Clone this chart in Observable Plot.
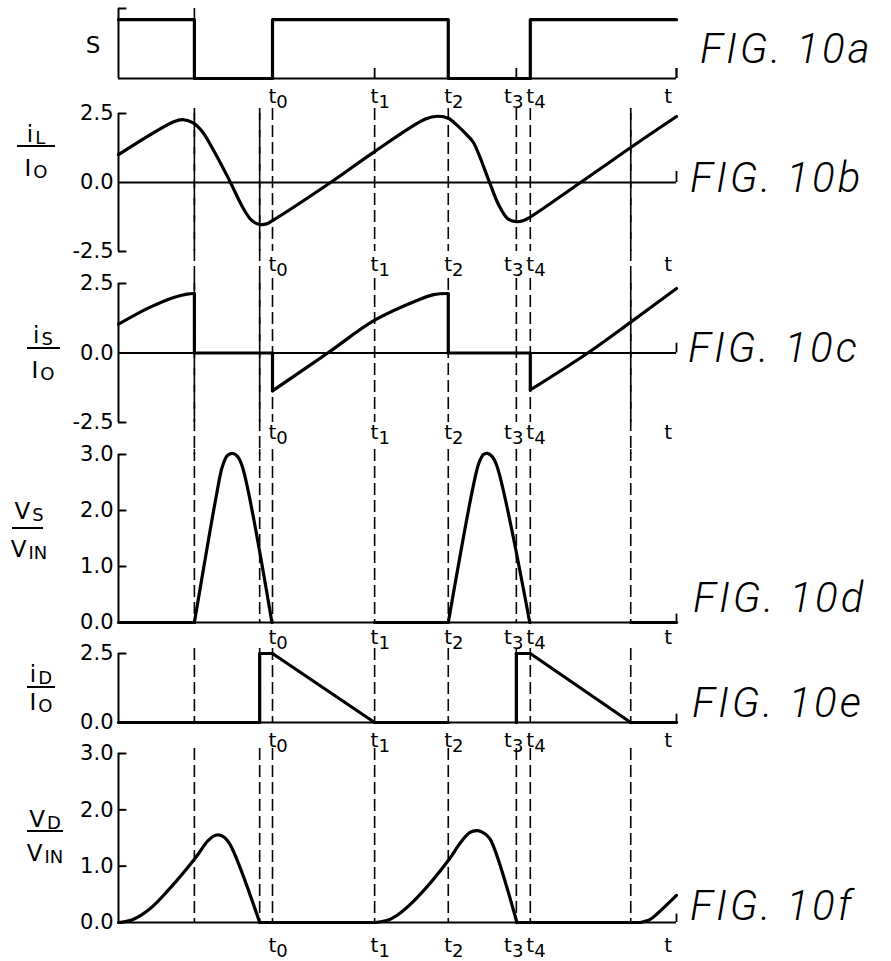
<!DOCTYPE html>
<html><head><meta charset="utf-8">
<script src="https://cdn.jsdelivr.net/npm/d3@7"></script>
<script src="https://cdn.jsdelivr.net/npm/@observablehq/plot@0.6"></script>
<style>
html,body{margin:0;padding:0;background:#fff;overflow:hidden;}
#chart{position:relative;width:891px;height:961px;}
</style></head><body><div id="chart"></div>
<script>
// ---- data (time in arbitrary units, 0..100 across the plot) ----
const dashTimes = [13.6, 25.3, 27.6, 45.9, 59.1, 71.3, 73.8, 91.8];
const tickLabels = ["t0", "t1", "t2", "t3", "t4", "t"];
const tickLabelTimes = [27.6, 45.9, 59.1, 71.3, 73.8, 98.5];
const switchTickTimes = [45.9, 71.3, 100];

const switchS = [[[0,1],[13.6,1],[13.6,0],[27.6,0],[27.6,1],[59.1,1],[59.1,0],[73.8,0],[73.8,1],[100,1]]];

const iL = [[[0,1.01],[9.9,2.2],[11.5,2.28],[13.3,2.17],[15.0,1.85],[16.8,1.25],[19.7,0.15],[22.4,-0.95],[23.9,-1.38],[25.3,-1.52],[26.5,-1.5],[27.6,-1.38],[38.0,0],[45.9,1.12],[55.0,2.3],[57.2,2.4],[59.1,2.33],[60.8,2.05],[62.3,1.75],[63.6,1.45],[66.5,0],[68.1,-0.8],[69.7,-1.3],[71.3,-1.42],[72.6,-1.38],[73.8,-1.25],[82.8,0],[91.8,1.27],[100,2.39]]];

const iS = [
  [[0,1.04],[5.7,1.65],[9.9,2.0],[12.3,2.12],[13.6,2.14]],
  [[13.6,2.14],[13.6,0]],
  [[13.6,0],[27.6,0]],
  [[27.6,0],[27.6,-1.36]],
  [[27.6,-1.36],[37.5,0],[45.9,1.18],[53.6,1.9],[56.5,2.1],[59.1,2.14]],
  [[59.1,2.14],[59.1,0]],
  [[59.1,0],[73.8,0]],
  [[73.8,0],[73.8,-1.33]],
  [[73.8,-1.33],[84.1,0],[91.8,1.11],[100,2.32]]
];

const vS = [
  [[0,0],[13.6,0]],
  [[13.6,0],[17.6,2.3],[18.6,2.78],[19.5,2.98],[20.4,3.02],[21.3,2.97],[22.2,2.78],[27.5,0]],
  [[45.9,0],[59.1,0]],
  [[59.1,0],[63.5,2.4],[64.6,2.85],[65.4,3.0],[66.1,3.02],[66.9,2.97],[67.8,2.8],[73.7,0]],
  [[91.8,0],[100,0]]
];

const iD = [
  [[0,0],[25.3,0]],
  [[25.3,0],[25.3,2.5]],
  [[25.3,2.5],[27.6,2.5]],
  [[27.6,2.5],[45.9,0]],
  [[45.9,0],[59.1,0]],
  [[71.3,0],[71.3,2.5]],
  [[71.3,2.5],[73.8,2.5]],
  [[73.8,2.5],[91.8,0]],
  [[91.8,0],[100,0]]
];

const vD = [
  [[0,0],[2.5,0.05],[5.7,0.25],[8.8,0.56],[13.8,1.15],[16.0,1.45],[17.4,1.55],[18.7,1.53],[19.9,1.4],[25.3,0]],
  [[25.3,0],[45.9,0]],
  [[45.9,0],[48.5,0.05],[50.5,0.17],[53.6,0.45],[59.1,1.1],[61.3,1.42],[63.0,1.6],[64.4,1.63],[65.6,1.58],[66.6,1.48],[71.4,0]],
  [[71.4,0],[93.5,0]],
  [[93.5,0],[95.2,0.05],[96.6,0.16],[100,0.48]]
];

const ticksB = [-2.5, 0, 2.5];
const ticksD = [0, 1, 2, 3];
const ticksE = [0, 2.5];
const figLabels = ["FIG. 10a", "FIG. 10b", "FIG. 10c", "FIG. 10d", "FIG. 10e", "FIG. 10f"];

// ---- helpers ----
const toRows = segs => segs.flatMap((seg, s) => seg.map(([t, v]) => ({t, v, s})));
const unlabeledDash = dashTimes.filter(t => !tickLabelTimes.includes(t));
const FONT = "DejaVu Sans";
const dashStyle = {stroke: "black", strokeWidth: 1.6, strokeDasharray: "12,5"};

const panels = [
  {data: switchS, top: 0, height: 115, mt: 8, mb: 37, domain: [0, 1.19], ticks: null, inner: [1.19], endTick: 0.17, labelDy: 18, extend: 0, a: true},
  {data: iL, top: 100, height: 185, mt: 13, mb: 34, domain: [-2.5, 2.5], ticks: ticksB, inner: [2.5, -2.5], endTick: 0.4, labelDy: 13, extend: -32},
  {data: iS, top: 270, height: 180, mt: 13, mb: 28, domain: [-2.5, 2.5], ticks: ticksB, inner: [2.5, -2.5], endTick: 0.35, labelDy: 10, extend: -32},
  {data: vS, top: 440, height: 210, mt: 14, mb: 28, domain: [0, 3], ticks: ticksD, inner: [1, 2, 3], endTick: 0.15, labelDy: 15, extend: 0},
  {data: iD, top: 640, height: 115, mt: 13, mb: 33, domain: [0, 2.5], ticks: ticksE, inner: [2.5], endTick: 0.3, labelDy: 18, extend: 0},
  {data: vD, top: 740, height: 221, mt: 13, mb: 39, domain: [0, 3], ticks: ticksD, inner: [1, 2, 3], endTick: 0.15, labelDy: 23, extend: 0}
];

const chart = document.getElementById("chart");
const labelRows = tickLabels.map((label, i) => ({label, t: tickLabelTimes[i]}));
const startLabels = labelRows.filter(d => d.label !== "t3" && d.label !== "t");
const endLabels = labelRows.filter(d => d.label === "t3");
const midLabels = labelRows.filter(d => d.label === "t");

panels.forEach(p => {
  const base = p.domain[0] < 0 ? 0 : p.domain[0];
  const marks = [];
  // axes
  marks.push(Plot.ruleX([0], {stroke: "black", strokeWidth: 2}));
  marks.push(Plot.ruleY([base], {stroke: "black", strokeWidth: 1.8}));
  marks.push(Plot.ruleY(p.inner, {x1: 0, x2: 1.5, stroke: "black", strokeWidth: 2}));
  marks.push(Plot.ruleX([100], {y1: base, y2: base + p.endTick, stroke: "black", strokeWidth: 1.8}));
  if (p.ticks) {
    marks.push(Plot.axisY({ticks: p.ticks, tickSize: 0, tickPadding: 5, tickFormat: d => d.toFixed(1), fontSize: 21, label: null}));
  }
  if (p.a) {
    marks.push(Plot.ruleX([dashTimes[0]], {y1: 1, y2: p.domain[1], ...dashStyle}));
    marks.push(Plot.ruleX(switchTickTimes, {y1: 0, y2: p.endTick, stroke: "black", strokeWidth: 1.8}));
  } else {
    marks.push(Plot.ruleX(dashTimes, {insetTop: -5, ...dashStyle}));
    if (p.extend) marks.push(Plot.ruleX(unlabeledDash, {insetBottom: p.extend, ...dashStyle}));
  }
  // curve
  marks.push(Plot.line(toRows(p.data), {x: "t", y: "v", z: "s", curve: p.a ? "linear" : "catmull-rom", stroke: "black", strokeWidth: 3.2, strokeLinejoin: "round", strokeLinecap: "round"}));
  // time labels
  const lab = {x: "t", y: () => p.domain[0], text: "label", fontSize: 20, dy: p.labelDy, fill: "black"};
  marks.push(Plot.text(startLabels, {...lab, textAnchor: "start", dx: -4}));
  marks.push(Plot.text(endLabels, {...lab, textAnchor: "end", dx: 7}));
  marks.push(Plot.text(midLabels, {...lab, textAnchor: "middle", dx: 0}));
  const plot = Plot.plot({
    width: 891, height: p.height,
    marginLeft: 118, marginRight: 215, marginTop: p.mt, marginBottom: p.mb,
    x: {domain: [0, 100], axis: null},
    y: {domain: p.domain, label: null, axis: p.ticks ? undefined : null},
    style: {position: "absolute", top: p.top + "px", left: "0px", overflow: "visible", background: "transparent", fontFamily: FONT, fontSize: "21px", color: "black"},
    marks
  });
  d3.select(plot).selectAll("text").each(function() {
    const m = /^t(\d)$/.exec(this.textContent);
    if (m) {
      const el = d3.select(this);
      el.text("t");
      el.append("tspan").attr("font-size", 18).attr("dy", 5).text(m[1]);
    }
  });
  chart.appendChild(plot);
});

// ---- annotation overlay: y-axis quantity labels and figure names ----
const ov = d3.select(chart).append("svg")
  .attr("width", 891).attr("height", 961)
  .style("position", "absolute").style("left", "0px").style("top", "0px")
  .style("pointer-events", "none")
  .attr("font-family", FONT);

ov.append("text").attr("x", 93).attr("y", 53).attr("text-anchor", "middle").attr("font-size", 23).text("S");

const fracs = [
  {num: ["i", "L"], den: ["I", "O"], cx: 36, nb: 142, bar: 146, bx1: 17, bx2: 55, db: 176},
  {num: ["i", "S"], den: ["I", "O"], cx: 43, nb: 343, bar: 348, bx1: 27, bx2: 60, db: 378},
  {num: ["V", "S"], den: ["V", "IN"], cx: 29, nb: 519, bar: 528, bx1: 12, bx2: 43, db: 557},
  {num: ["i", "D"], den: ["I", "O"], cx: 41, nb: 682, bar: 687, bx1: 27, bx2: 55, db: 710},
  {num: ["V", "D"], den: ["V", "IN"], cx: 45, nb: 827, bar: 831, bx1: 27, bx2: 63, db: 861}
];
fracs.forEach(f => {
  [[f.num, f.nb], [f.den, f.db]].forEach(([parts, y]) => {
    const t = ov.append("text").attr("x", f.cx).attr("y", y).attr("text-anchor", "middle").attr("font-size", 23);
    t.append("tspan").text(parts[0]);
    t.append("tspan").attr("font-size", 18).attr("dx", 2).attr("dy", 2).text(parts[1]);
  });
  ov.append("line").attr("x1", f.bx1).attr("x2", f.bx2).attr("y1", f.bar).attr("y2", f.bar).attr("stroke", "black").attr("stroke-width", 2);
});

const figPos = [[700, 63], [690, 192], [688, 362], [693, 612], [692, 717], [690, 920]];
figLabels.forEach((s, i) => {
  ov.append("text").attr("x", figPos[i][0]).attr("y", figPos[i][1])
    .attr("font-family", "Roboto, 'Liberation Sans'").attr("font-style", "italic").attr("font-weight", 300)
    .attr("font-size", 42).attr("letter-spacing", 3).text(s);
});
</script></body></html>
